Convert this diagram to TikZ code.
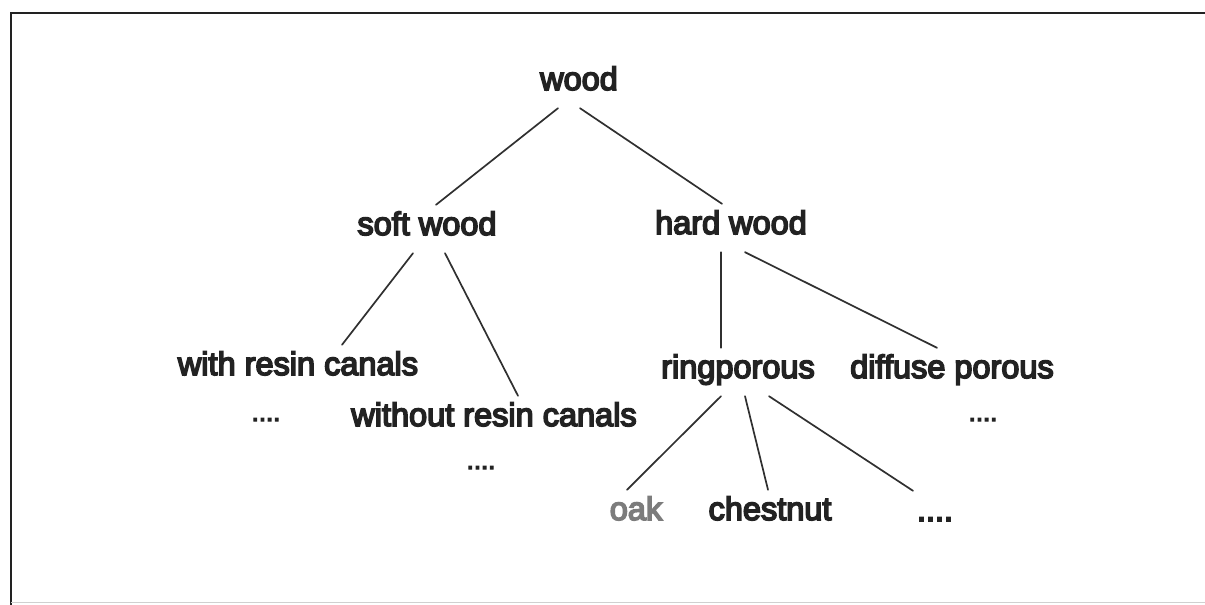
\documentclass[tikz,border=0pt]{standalone}
\usepackage{fontspec}
\usetikzlibrary{calc}
\newfontfamily\treefont[FakeBold=5]{Liberation Sans}
\definecolor{ink}{HTML}{222222}
\definecolor{lineink}{HTML}{303030}
\definecolor{faint}{HTML}{8A8A8A}
\begin{document}
\begin{tikzpicture}[x=1pt,y=-1pt,
  term/.style={anchor=base,font=\treefont\fontsize{32.5}{36}\selectfont,text=ink,
    text height=21pt,text depth=9pt,inner xsep=2pt,inner ysep=9pt},
  dots/.style={term,font=\treefont\fontsize{26}{30}\selectfont},
  branch/.style={draw=lineink,line width=1.7pt,line cap=round},
  frameline/.style={draw=ink,line width=2.2pt}]
\useasboundingbox (0,0) rectangle (1205,605);
% frame
\draw[frameline] (11,605) -- (11,13) -- (1205,13);
\draw[draw=faint!40,line width=1pt] (11,602) -- (1205,602);
% terms
\node[term] (wood) at (579,90) {wood};
\node[term] (soft) at (427,235) {soft wood};
\node[term] (hard) at (731,234) {hard wood};
\node[term] (with) at (298,375) {with resin canals};
\node[dots] (withdots) at (266,421) {....};
\node[term] (without) at (494,426) {without resin canals};
\node[dots] (withoutdots) at (481,469) {....};
\node[term] (ring) at (738,378) {ringporous};
\node[term] (diffuse) at (952,378) {diffuse porous};
\node[dots] (diffusedots) at (983,421) {....};
\node[term,text=faint!90!black] (oak) at (636,520) {oak};
\node[term] (chestnut) at (770,520) {chestnut};
\node[term] (ringdots) at (935,521) {....};
% branches
\draw[branch] ($(wood.south)+(-21,0)$) -- ($(soft.north)+(9,0)$);
\draw[branch] ($(wood.south)+(1,0)$) -- ($(hard.north)+(-9,0)$);
\draw[branch] ($(soft.south)+(-14,0)$) -- ($(with.north)+(44,0)$);
\draw[branch] ($(soft.south)+(18,0)$) -- ($(without.north)+(24,0)$);
\draw[branch] ($(hard.south)+(-10,0)$) -- ($(ring.north)+(-17,0)$);
\draw[branch] ($(hard.south)+(14,0)$) -- ($(diffuse.north)+(-15,0)$);
\draw[branch] ($(ring.south)+(-17,0)$) -- ($(oak.north)+(-9,0)$);
\draw[branch] ($(ring.south)+(7,0)$) -- ($(chestnut.north)+(-2,0)$);
\draw[branch] ($(ring.south)+(31,0)$) -- ($(ringdots.north)+(-22,0)$);
\end{tikzpicture}
\end{document}
